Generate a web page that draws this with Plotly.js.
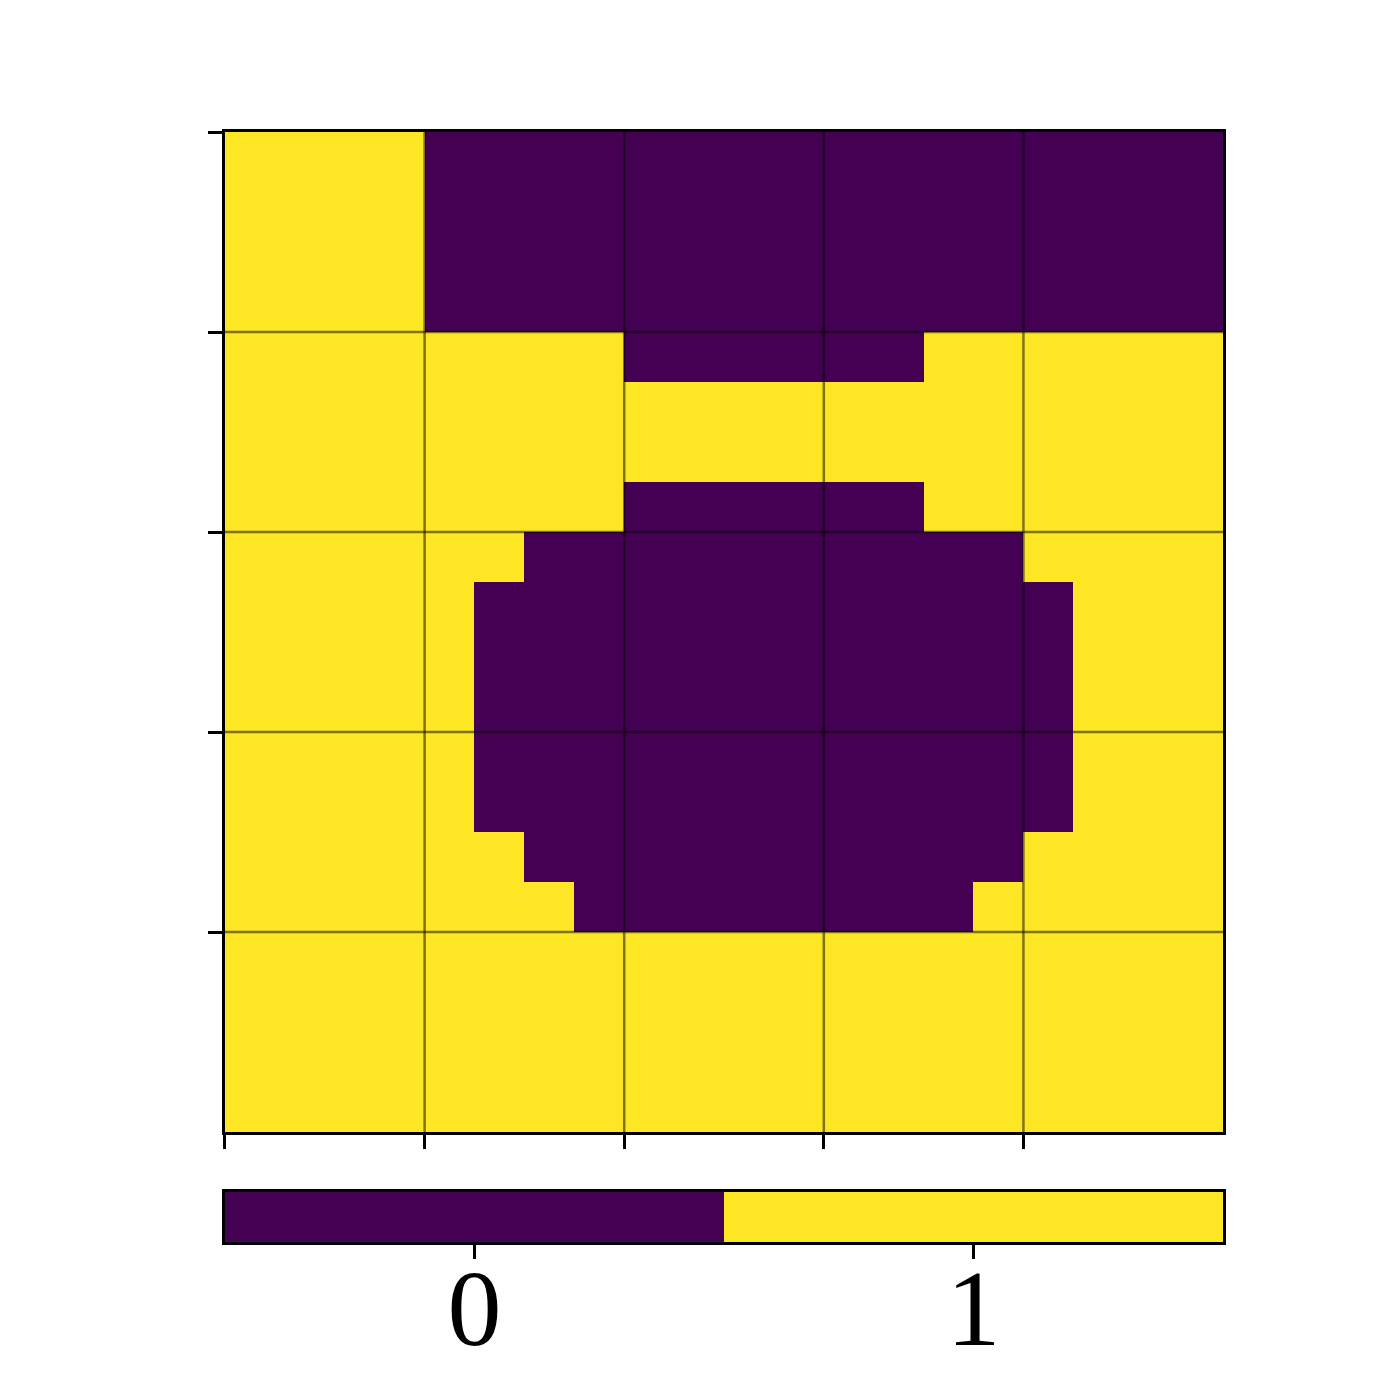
<!DOCTYPE html>
<html>
<head>
<meta charset="utf-8">
<script src="https://cdn.plot.ly/plotly-3.0.1.min.js"></script>
<style>
  body { margin: 0; background: #fff; }
  #chart { width: 1400px; height: 1400px; }
</style>
</head>
<body>
<div id="chart"></div>
<script>
// 20x20 binary image, row 0 at the top
const gridValues = [
  [1,1,1,1,0,0,0,0,0,0,0,0,0,0,0,0,0,0,0,0],
  [1,1,1,1,0,0,0,0,0,0,0,0,0,0,0,0,0,0,0,0],
  [1,1,1,1,0,0,0,0,0,0,0,0,0,0,0,0,0,0,0,0],
  [1,1,1,1,0,0,0,0,0,0,0,0,0,0,0,0,0,0,0,0],
  [1,1,1,1,1,1,1,1,0,0,0,0,0,0,1,1,1,1,1,1],
  [1,1,1,1,1,1,1,1,1,1,1,1,1,1,1,1,1,1,1,1],
  [1,1,1,1,1,1,1,1,1,1,1,1,1,1,1,1,1,1,1,1],
  [1,1,1,1,1,1,1,1,0,0,0,0,0,0,1,1,1,1,1,1],
  [1,1,1,1,1,1,0,0,0,0,0,0,0,0,0,0,1,1,1,1],
  [1,1,1,1,1,0,0,0,0,0,0,0,0,0,0,0,0,1,1,1],
  [1,1,1,1,1,0,0,0,0,0,0,0,0,0,0,0,0,1,1,1],
  [1,1,1,1,1,0,0,0,0,0,0,0,0,0,0,0,0,1,1,1],
  [1,1,1,1,1,0,0,0,0,0,0,0,0,0,0,0,0,1,1,1],
  [1,1,1,1,1,0,0,0,0,0,0,0,0,0,0,0,0,1,1,1],
  [1,1,1,1,1,1,0,0,0,0,0,0,0,0,0,0,1,1,1,1],
  [1,1,1,1,1,1,1,0,0,0,0,0,0,0,0,1,1,1,1,1],
  [1,1,1,1,1,1,1,1,1,1,1,1,1,1,1,1,1,1,1,1],
  [1,1,1,1,1,1,1,1,1,1,1,1,1,1,1,1,1,1,1,1],
  [1,1,1,1,1,1,1,1,1,1,1,1,1,1,1,1,1,1,1,1],
  [1,1,1,1,1,1,1,1,1,1,1,1,1,1,1,1,1,1,1,1]
];
const cellCenters = Array.from({ length: 20 }, (_, i) => i + 0.5);
const axisTicks = [0, 4, 8, 12, 16];
const gridLines = [4, 8, 12, 16];
const colorbarValues = [0, 1];
const colorbarLabels = ['0', '1'];

const purple = '#440154';
const yellow = '#fde725';
const binaryScale = [[0, purple], [0.5, purple], [0.5, yellow], [1, yellow]];

const data = [
  {
    type: 'heatmap',
    z: gridValues,
    x: cellCenters,
    y: cellCenters,
    zmin: 0,
    zmax: 1,
    colorscale: binaryScale,
    showscale: false,
    xaxis: 'x',
    yaxis: 'y',
    hoverinfo: 'skip'
  },
  {
    // colorbar drawn as its own small heatmap
    type: 'heatmap',
    z: [colorbarValues],
    x: colorbarValues,
    y: [0],
    zmin: 0,
    zmax: 1,
    colorscale: binaryScale,
    showscale: false,
    xaxis: 'x2',
    yaxis: 'y2',
    hoverinfo: 'skip'
  }
];

// semi-transparent grid lines on top of the image
const gridStyle = { color: 'rgba(0,0,0,0.5)', width: 2.5 };
const shapes = [];
gridLines.forEach(v => {
  shapes.push({ type: 'line', xref: 'x', yref: 'paper', x0: v, x1: v, y0: 0.1914, y1: 0.9057,
    line: gridStyle, layer: 'above' });
  shapes.push({ type: 'line', xref: 'paper', yref: 'y', x0: 0.1607, x1: 0.8736, y0: v, y1: v,
    line: gridStyle, layer: 'above' });
});

const frameAxis = {
  showline: true,
  linecolor: '#000',
  linewidth: 3,
  mirror: true,
  ticks: 'outside',
  ticklen: 14,
  tickwidth: 3,
  tickcolor: '#000',
  showticklabels: false,
  showgrid: false,
  zeroline: false,
  tickmode: 'array',
  tickvals: axisTicks,
  layer: 'above traces'
};

const layout = {
  width: 1400,
  height: 1400,
  margin: { l: 0, r: 0, t: 0, b: 0 },
  paper_bgcolor: '#fff',
  plot_bgcolor: '#fff',
  showlegend: false,
  font: { family: 'Liberation Serif, DejaVu Serif, serif', color: '#000' },
  xaxis: Object.assign({}, frameAxis, { domain: [0.1607, 0.8736], range: [0, 20], anchor: 'y' }),
  yaxis: Object.assign({}, frameAxis, { domain: [0.1914, 0.9057], range: [20, 0], anchor: 'x' }),
  xaxis2: {
    domain: [0.1607, 0.8736],
    range: [-0.5, 1.5],
    anchor: 'y2',
    showline: true,
    linecolor: '#000',
    linewidth: 3,
    mirror: true,
    ticks: 'outside',
    ticklen: 14,
    tickwidth: 3,
    tickcolor: '#000',
    tickmode: 'array',
    tickvals: colorbarValues,
    ticktext: colorbarLabels,
    ticklabelstandoff: -44,
    tickfont: { family: 'Liberation Serif, DejaVu Serif, serif', size: 108, color: '#000' },
    showgrid: false,
    zeroline: false,
    layer: 'above traces'
  },
  yaxis2: {
    domain: [0.1129, 0.1486],
    range: [-0.5, 0.5],
    anchor: 'x2',
    showline: true,
    linecolor: '#000',
    linewidth: 3,
    mirror: true,
    ticks: '',
    showticklabels: false,
    showgrid: false,
    zeroline: false,
    layer: 'above traces'
  },
  shapes: shapes
};

Plotly.newPlot('chart', data, layout, { displayModeBar: false, staticPlot: true });
</script>
</body>
</html>
